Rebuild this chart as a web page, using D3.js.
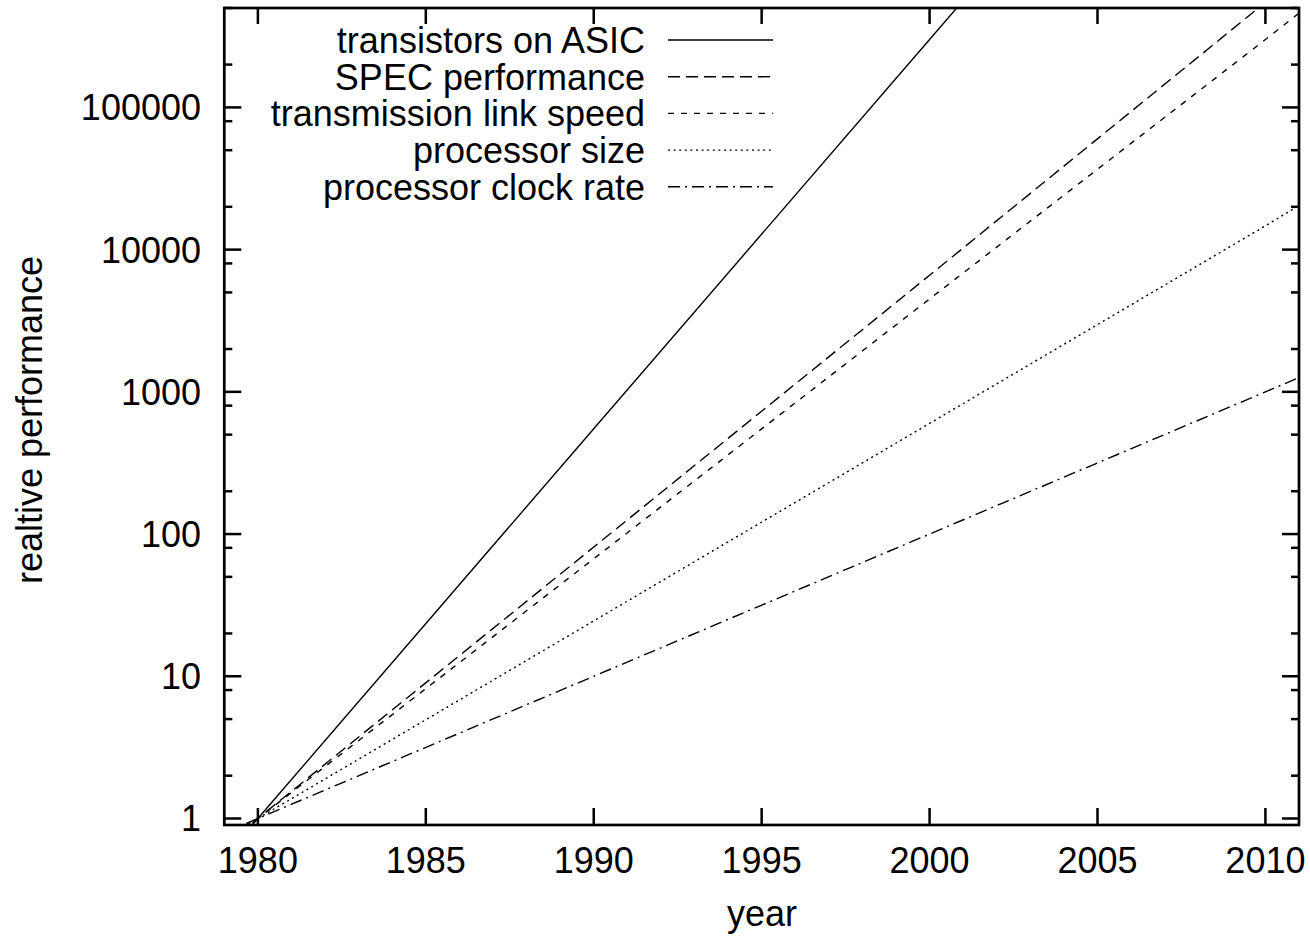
<!DOCTYPE html>
<html><head><meta charset="utf-8">
<script src="https://d3js.org/d3.v7.min.js"></script>
<style>
html,body{margin:0;padding:0;background:#fff;}
text{font-family:"Liberation Sans",Arial,Helvetica,sans-serif;fill:#000;}
</style></head>
<body>
<script>
// ---- data ----
const years = [1979, 1980, 1990, 2000, 2010, 2011];
const transistorsOnASIC   = [0.53, 1, 550, 300000, 166000000, 310000000];
const specPerformance     = [0.64, 1, 81, 6600, 548000, 845000];
const transmissionLink    = [0.66, 1, 67, 4500, 300000, 460000];
const processorSize       = [0.73, 1, 24.5, 600, 14700, 20400];
const processorClockRate  = [0.79, 1, 10, 100, 1000, 1260];
const seriesNames = ["transistors on ASIC", "SPEC performance", "transmission link speed", "processor size", "processor clock rate"];
const xTickValues = [1980, 1985, 1990, 1995, 2000, 2005, 2010];
const yTickValues = [1, 10, 100, 1000, 10000, 100000];
const yMinorMultipliers = [2, 5, 8];
const xDomain = [1979, 2011];
const yDomain = [0.9, 500000];

// ---- layout ----
const W = 1310, H = 937;
const L = 224.3, R = 1299, T = 8, B = 825;
const fs = 36;
const dashes = ["none", "12,6", "6,7", "2,3.6", "12,5,2,5"];

const allSeries = [transistorsOnASIC, specPerformance, transmissionLink, processorSize, processorClockRate];

const svg = d3.select("body").append("svg").attr("width", W).attr("height", H);

const x = d3.scaleLinear().domain(xDomain).range([L, R]);
const y = d3.scaleLog().domain(yDomain).range([B, T]);

svg.append("defs").append("clipPath").attr("id", "plotclip")
  .append("rect").attr("x", L).attr("y", T).attr("width", R - L).attr("height", B - T);

// minor y ticks
const minor = [];
for (let k = -1; k <= 6; k++) for (const m of yMinorMultipliers) {
  const v = m * Math.pow(10, k);
  if (v >= yDomain[0] && v <= yDomain[1]) minor.push(v);
}
const tickG = svg.append("g").attr("stroke", "#000").attr("stroke-width", 2.5);
tickG.selectAll("line.ymin-l").data(minor).join("line")
  .attr("x1", L).attr("x2", L + 8).attr("y1", d => y(d)).attr("y2", d => y(d));
tickG.selectAll("line.ymin-r").data(minor).join("line")
  .attr("x1", R).attr("x2", R - 8).attr("y1", d => y(d)).attr("y2", d => y(d));
tickG.selectAll("line.ymaj-l").data(yTickValues).join("line")
  .attr("x1", L).attr("x2", L + 17).attr("y1", d => y(d)).attr("y2", d => y(d));
tickG.selectAll("line.ymaj-r").data(yTickValues).join("line")
  .attr("x1", R).attr("x2", R - 17).attr("y1", d => y(d)).attr("y2", d => y(d));
tickG.selectAll("line.xb").data(xTickValues).join("line")
  .attr("x1", d => x(d)).attr("x2", d => x(d)).attr("y1", B).attr("y2", B - 17);
tickG.selectAll("line.xt").data(xTickValues).join("line")
  .attr("x1", d => x(d)).attr("x2", d => x(d)).attr("y1", T).attr("y2", T + 16);

// tick labels
svg.append("g").selectAll("text").data(yTickValues).join("text")
  .attr("x", 201).attr("y", d => y(d)).attr("dy", "0.36em")
  .attr("text-anchor", "end").attr("font-size", fs)
  .text(d => String(d));
svg.append("g").selectAll("text").data(xTickValues).join("text")
  .attr("x", d => x(d)).attr("y", 873)
  .attr("text-anchor", "middle").attr("font-size", fs)
  .text(d => String(d));

// axis titles
svg.append("text").attr("x", 762).attr("y", 926).attr("text-anchor", "middle")
  .attr("font-size", fs).text("year");
svg.append("text").attr("transform", "translate(42,420) rotate(-90)")
  .attr("text-anchor", "middle").attr("font-size", fs).text("realtive performance");

// series lines
const line = d3.line().x((d, i) => x(years[i])).y(d => y(d));
const plotG = svg.append("g").attr("clip-path", "url(#plotclip)");
allSeries.forEach((s, i) => {
  plotG.append("path").datum(s).attr("d", line)
    .attr("fill", "none").attr("stroke", "#000").attr("stroke-width", 1.4)
    .attr("stroke-dasharray", dashes[i]);
});

// legend
const lg = svg.append("g");
seriesNames.forEach((n, i) => {
  const cy = 40 + i * 36.7;
  lg.append("text").attr("x", 645).attr("y", cy).attr("dy", "0.36em")
    .attr("text-anchor", "end").attr("font-size", fs).text(n);
  lg.append("line").attr("x1", 668).attr("x2", 773).attr("y1", cy).attr("y2", cy)
    .attr("stroke", "#000").attr("stroke-width", 1.4).attr("stroke-dasharray", dashes[i]);
});

// border
svg.append("rect").attr("x", L).attr("y", T).attr("width", R - L).attr("height", B - T)
  .attr("fill", "none").attr("stroke", "#000").attr("stroke-width", 2.7);
</script>
</body></html>
